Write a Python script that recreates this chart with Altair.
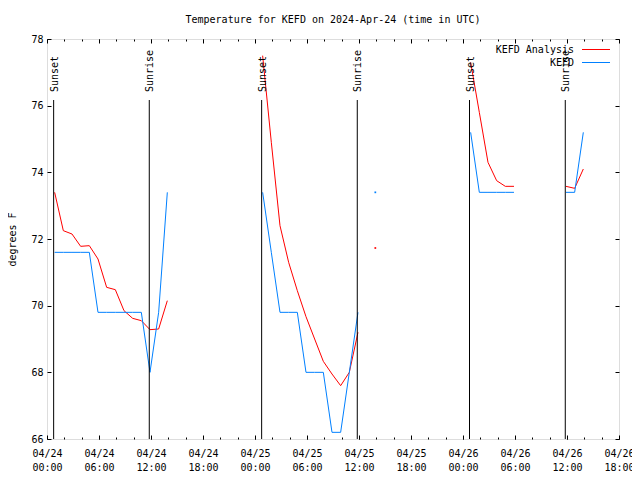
import altair as alt
import pandas as pd
from datetime import datetime, timedelta

# ---------------- data ----------------
obs_times = [
    "2024-04-24T00:53:00Z", "2024-04-24T01:53:00Z", "2024-04-24T02:53:00Z", "2024-04-24T03:53:00Z",
    "2024-04-24T04:53:00Z", "2024-04-24T05:53:00Z", "2024-04-24T06:53:00Z", "2024-04-24T07:53:00Z",
    "2024-04-24T08:53:00Z", "2024-04-24T09:53:00Z", "2024-04-24T10:53:00Z", "2024-04-24T11:53:00Z",
    "2024-04-24T12:53:00Z", "2024-04-24T13:53:00Z",
    "2024-04-25T00:53:00Z", "2024-04-25T01:53:00Z", "2024-04-25T02:53:00Z", "2024-04-25T03:53:00Z",
    "2024-04-25T04:53:00Z", "2024-04-25T05:53:00Z", "2024-04-25T06:53:00Z", "2024-04-25T07:53:00Z",
    "2024-04-25T08:53:00Z", "2024-04-25T09:53:00Z", "2024-04-25T10:53:00Z", "2024-04-25T11:53:00Z",
    "2024-04-25T13:53:00Z",
    "2024-04-26T00:53:00Z", "2024-04-26T01:53:00Z", "2024-04-26T02:53:00Z", "2024-04-26T03:53:00Z",
    "2024-04-26T04:53:00Z", "2024-04-26T05:53:00Z",
    "2024-04-26T11:53:00Z", "2024-04-26T12:53:00Z", "2024-04-26T13:53:00Z",
]
analysis_f = [
    73.4, 72.25, 72.15, 71.78, 71.8, 71.4, 70.55, 70.48, 69.85, 69.62, 69.55, 69.28, 69.3, 70.15,
    77.5, 74.9, 72.4, 71.3, 70.45, 69.67, 69.0, 68.33, 67.95, 67.6, 68.0, 69.2,
    71.73,
    77.3, 75.8, 74.3, 73.75, 73.58, 73.58,
    73.58, 73.52, 74.1,
]
observed_f = [
    71.6, 71.6, 71.6, 71.6, 71.6, 69.8, 69.8, 69.8, 69.8, 69.8, 69.8, 68.0, 69.8, 73.4,
    73.4, 71.6, 69.8, 69.8, 69.8, 68.0, 68.0, 68.0, 66.2, 66.2, 68.0, 69.8,
    73.4,
    75.2, 73.4, 73.4, 73.4, 73.4, 73.4,
    73.4, 73.4, 75.2,
]
series_names = ["KEFD Analysis", "KEFD"]
series_colors = ["#ff0000", "#0080ff"]

event_times = [
    "2024-04-24T00:46:00Z", "2024-04-24T11:48:00Z",
    "2024-04-25T00:46:00Z", "2024-04-25T11:48:00Z",
    "2024-04-26T00:45:00Z", "2024-04-26T11:48:00Z",
]
event_labels = ["Sunset", "Sunrise", "Sunset", "Sunrise", "Sunset", "Sunrise"]
y_ticks = [66, 68, 70, 72, 74, 76, 78]

FONT = "DejaVu Sans Mono"

# ---------------- tables ----------------
rows = []
for name, vals in zip(series_names, [analysis_f, observed_f]):
    seg = 0
    prev = None
    for t, v in zip(obs_times, vals):
        ts = pd.Timestamp(t)
        if prev is not None and (ts - prev) > pd.Timedelta(hours=1.5):
            seg += 1
        prev = ts
        rows.append({"t": t, "value": v, "series": name, "seg": f"{name}-{seg}"})
df = pd.DataFrame(rows)
df["n"] = df.groupby("seg")["seg"].transform("size")
lines_df = df[df["n"] > 1].drop(columns="n")
points_df = df[df["n"] == 1].drop(columns="n")

events_df = pd.DataFrame({"t": event_times, "label": event_labels})
legend_df = pd.DataFrame({"series": series_names})

start = datetime(2024, 4, 24)


def dt(d):
    return alt.DateTime(year=d.year, month=d.month, date=d.day, hours=d.hour, utc=True)


major = [dt(start + timedelta(hours=6 * i)) for i in range(12)]
minor = [dt(start + timedelta(hours=2 * i)) for i in range(34)]

x_scale = alt.Scale(type="utc", domain=[dt(start), dt(start + timedelta(hours=66))])
y_scale = alt.Scale(domain=[66, 78], nice=False, zero=False)
color_scale = alt.Scale(domain=series_names, range=series_colors)

common_axis = dict(domain=False, grid=False, tickColor="black", tickWidth=1, title=None,
                   labelFont=FONT, labelFontSize=10, labelColor="black")

ax_bottom_major = alt.Axis(orient="bottom", values=major, tickSize=4, offset=-4,
                           labelExpr="[utcFormat(datum.value, '%m/%d'), utcFormat(datum.value, '%H:%M')]",
                           labelPadding=9, labelLineHeight=14, labelBaseline="top", labelAlign="center",
                           labelOverlap=False, labelFlush=False, **common_axis)
ax_bottom_minor = alt.Axis(orient="bottom", values=minor, tickSize=2, offset=-2, labels=False,
                           **common_axis)
ax_top_major = alt.Axis(orient="top", values=major, tickSize=4, offset=-4, labels=False, **common_axis)
ax_top_minor = alt.Axis(orient="top", values=minor, tickSize=2, offset=-2, labels=False, **common_axis)

ax_left = alt.Axis(orient="left", values=y_ticks, tickSize=4, offset=-4, labelPadding=4,
                   domain=False, grid=False, tickColor="black", title="degrees F",
                   titleFont=FONT, titleFontSize=10, titleFontWeight="normal", titleColor="black",
                   titlePadding=13, labelFont=FONT, labelFontSize=10, labelColor="black")
ax_right = alt.Axis(orient="right", values=y_ticks, tickSize=4, offset=-4, labels=False, **common_axis)

lines = alt.Chart(lines_df).mark_line(strokeWidth=1).encode(
    x=alt.X("t:T", scale=x_scale, axis=ax_bottom_major),
    y=alt.Y("value:Q", scale=y_scale, axis=ax_left),
    color=alt.Color("series:N", scale=color_scale, legend=None),
    detail="seg:N",
)

points = alt.Chart(points_df).mark_square(size=3, opacity=1).encode(
    x=alt.X("t:T", scale=x_scale, axis=ax_bottom_minor),
    y=alt.Y("value:Q", scale=y_scale, axis=ax_right),
    color=alt.Color("series:N", scale=color_scale, legend=None),
)

rules = alt.Chart(events_df).mark_rule(color="black", strokeWidth=1).encode(
    x=alt.X("t:T", scale=x_scale, axis=ax_top_major),
    y=alt.value(61),
    y2=alt.value(400),
)

labels = alt.Chart(events_df).mark_text(
    angle=270, align="left", baseline="middle", font=FONT, fontSize=10, color="black", dy=1
).encode(
    x=alt.X("t:T", scale=x_scale, axis=ax_top_minor),
    y=alt.value(53),
    text="label:N",
)

legend_layers = []
for i, name in enumerate(series_names):
    sub = legend_df[legend_df["series"] == name]
    ly = 10.5 + 13 * i
    legend_layers.append(
        alt.Chart(sub).mark_text(align="right", baseline="middle", font=FONT, fontSize=10,
                                 color="black").encode(
            x=alt.value(527), y=alt.value(ly + 0.5), text="series:N")
    )
    legend_layers.append(
        alt.Chart(sub).mark_rule(strokeWidth=1).encode(
            x=alt.value(535), x2=alt.value(563), y=alt.value(ly),
            color=alt.Color("series:N", scale=color_scale, legend=None))
    )

chart = alt.layer(lines, points, rules, labels, *legend_layers).resolve_axis(
    x="independent", y="independent"
).properties(
    width=572,
    height=400,
    autosize=alt.AutoSizeParams(type="none"),
    padding={"left": 39, "top": 31, "right": 13, "bottom": 33},
    title=alt.TitleParams("Temperature for KEFD on 2024-Apr-24 (time in UTC)", font=FONT,
                          fontSize=10, fontWeight="normal", color="black", anchor="middle",
                          offset=9),
).configure_view(stroke="black", strokeWidth=1).configure(background="white")

chart.save("out.html", embed_options={"renderer": "svg", "actions": False})
